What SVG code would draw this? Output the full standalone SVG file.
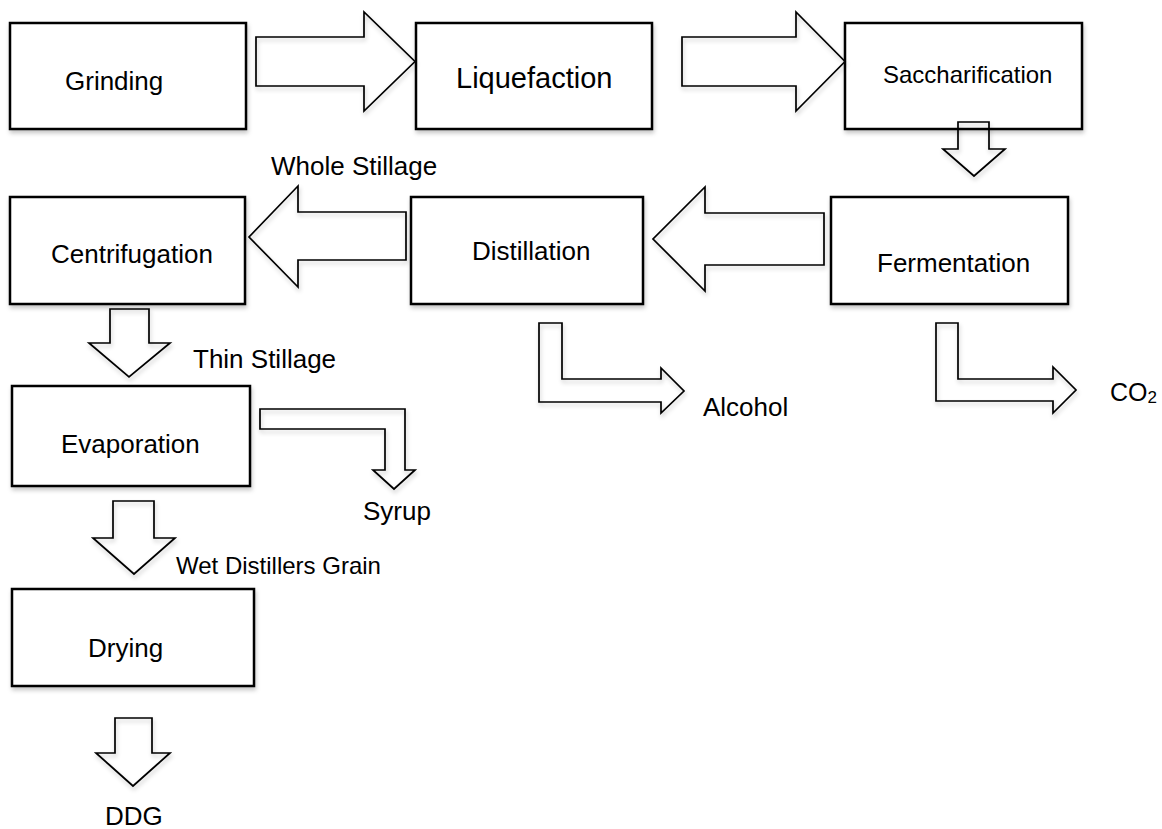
<svg xmlns="http://www.w3.org/2000/svg" width="1162" height="829" viewBox="0 0 1162 829">
<defs>
<filter id="sh" x="-10%" y="-10%" width="130%" height="140%">
<feDropShadow dx="1" dy="3" stdDeviation="2" flood-color="#000" flood-opacity="0.22"/>
</filter>
<style>
.box{fill:#fff;stroke:#000;stroke-width:2.5;filter:url(#sh)}
.arr{fill:none;stroke:#000;stroke-width:1.7;stroke-linejoin:miter;filter:url(#sh)}
text{font-family:"Liberation Sans",Arial,sans-serif;font-size:26px;fill:#000}
</style>
</defs>
<rect width="1162" height="829" fill="#fff"/>
<g id="grinding"><rect class="box" x="10" y="23" width="236" height="106"/><text x="65" y="90">Grinding</text></g>
<g id="liquefaction"><rect class="box" x="416" y="23" width="236" height="106"/><text x="456" y="88" style="font-size:29px">Liquefaction</text></g>
<g id="saccharification"><rect class="box" x="845" y="23" width="237" height="106"/><text x="883" y="83" style="font-size:24px">Saccharification</text></g>
<g id="centrifugation"><rect class="box" x="10" y="197" width="235" height="107"/><text x="51" y="263">Centrifugation</text></g>
<g id="distillation"><rect class="box" x="411" y="197" width="232" height="107"/><text x="472" y="260">Distillation</text></g>
<g id="fermentation"><rect class="box" x="831" y="197" width="237" height="107"/><text x="877" y="272">Fermentation</text></g>
<g id="evaporation"><rect class="box" x="12" y="386" width="238" height="100"/><text x="61" y="453">Evaporation</text></g>
<g id="drying"><rect class="box" x="12" y="589" width="242" height="97"/><text x="88" y="657">Drying</text></g>
<g id="connectors">
<polygon class="arr" points="256,37 364,37 364,12 415,61.5 364,111 364,86 256,86"/>
<polygon class="arr" points="682,37 796,37 796,12 845,61.5 796,111 796,86 682,86"/>
<polygon class="arr" points="958,122 989,122 989,149 1005,149 974,176 943,149 958,149"/>
<polygon class="arr" points="824,213 705,213 705,187 653,239 705,291 705,265 824,265"/>
<polygon class="arr" points="406,212 298,212 298,186 249,237 298,287 298,260 406,260"/>
<polygon class="arr" points="539,323 562,323 562,379 661,379 661,368 684,391 661,413 661,402 539,402"/>
<polygon class="arr" points="936,323 958,323 958,379 1053,379 1053,367 1076,390 1053,413 1053,401 936,401"/>
<polygon class="arr" points="110,309 149,309 149,343 170,343 129,377 89,343 110,343"/>
<polygon class="arr" points="260,409 405,409 405,470 415,470 394,489 373,470 385,470 385,429 260,429"/>
<polygon class="arr" points="113,501 154,501 154,538 175,538 134,574 93,538 113,538"/>
<polygon class="arr" points="115,718 152,718 152,753 170,753 133,786 96,753 115,753"/>
</g>
<g id="labels">
<text x="271" y="175">Whole Stillage</text>
<text x="193" y="368">Thin Stillage</text>
<text x="363" y="520">Syrup</text>
<text x="176" y="574" style="font-size:24px">Wet Distillers Grain</text>
<text x="105" y="825">DDG</text>
<text x="703" y="416">Alcohol</text>
<text x="1110" y="401" style="font-size:25px">CO<tspan style="font-size:17px" dy="2">2</tspan></text>
</g>
</svg>
